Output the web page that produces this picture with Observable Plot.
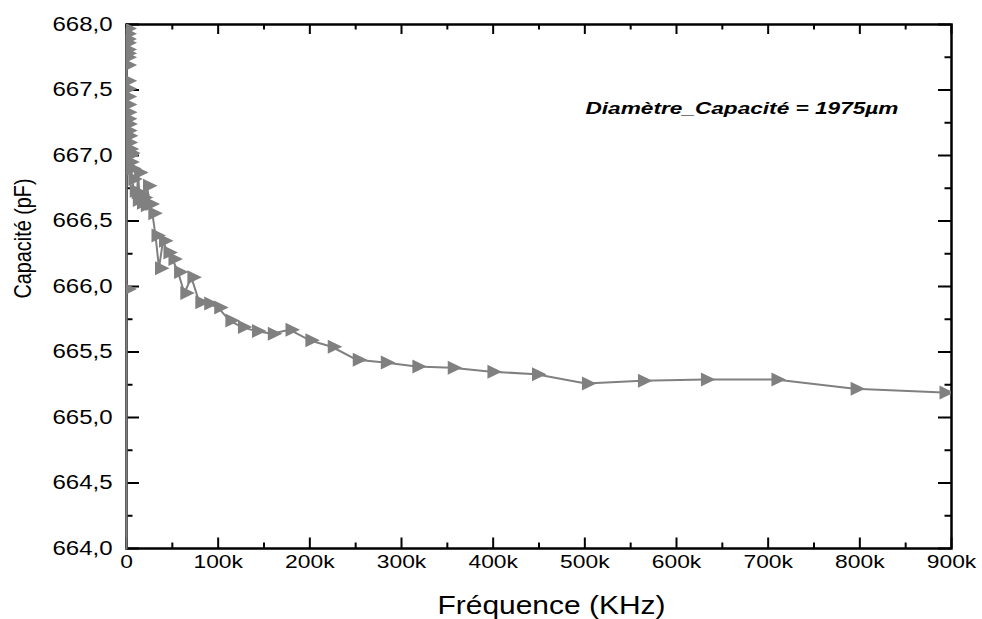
<!DOCTYPE html>
<html><head><meta charset="utf-8">
<script src="https://cdn.jsdelivr.net/npm/d3@7"></script>
<script src="https://cdn.jsdelivr.net/npm/@observablehq/plot@0.6"></script>
<style>
body{margin:0;background:#fff}
svg{font-family:"Liberation Sans",Arial,sans-serif}
</style>
</head><body><div id="chart"></div>
<script>
// Frequency (Hz)
const frequencies = [20, 25, 32, 40, 50, 63, 79, 100, 126, 158, 200, 251, 316, 398, 501, 631, 794,
  1000, 1259, 1585, 1995, 2512, 3162, 3981, 5012, 6310, 7943, 10000, 11220, 12590, 14130, 15850,
  17780, 19950, 22390, 25120, 28180, 31620, 35480, 39810, 44670, 50120, 56230, 63100, 70790, 79430,
  89130, 100000, 112200, 125900, 141300, 158500, 177800, 199500, 223900, 251200, 281800, 316200,
  354800, 398100, 446700, 501200, 562300, 631000, 707900, 794300, 891300];
// Capacité (pF)
const capacitance = [663.5, 665.98, 667.97, 667.89, 667.93, 667.81, 667.86, 667.75, 667.78, 667.69,
  667.57, 667.45, 667.51, 667.39, 667.28, 667.33, 667.19, 667.24, 667.10, 667.15, 667.00, 667.05,
  666.95, 667.02, 666.90, 666.82, 666.73, 666.72, 666.66, 666.87, 666.70, 666.64, 666.68, 666.62,
  666.77, 666.63, 666.56, 666.39, 666.14, 666.35, 666.26, 666.21, 666.11, 665.95, 666.07, 665.88,
  665.87, 665.84, 665.74, 665.69, 665.66, 665.64, 665.67, 665.59, 665.54, 665.44, 665.42, 665.39,
  665.38, 665.35, 665.33, 665.26, 665.28, 665.29, 665.29, 665.22, 665.19];

const xTicks = [0, 100000, 200000, 300000, 400000, 500000, 600000, 700000, 800000, 900000];
const xMinorTicks = [50000, 150000, 250000, 350000, 450000, 550000, 650000, 750000, 850000];
const yTicks = [664, 664.5, 665, 665.5, 666, 666.5, 667, 667.5, 668];
const yMinorTicks = [664.25, 664.75, 665.25, 665.75, 666.25, 666.75, 667.25, 667.75];
const xTitle = "Fréquence (KHz)";
const yTitle = "Capacité (pF)";
const note = "Diamètre_Capacité = 1975µm";

const data = frequencies.map((f, i) => ({f, c: capacitance[i]}));
const W = 982, H = 619, mL = 126, mR = 31, mT = 24, mB = 71;
const pw = W - mL - mR, ph = H - mT - mB;

const tri = {draw(ctx, size) {
  const s = Math.sqrt(size / Math.PI) / 5;
  ctx.moveTo(-4 * s, -7 * s); ctx.lineTo(10.5 * s, 0); ctx.lineTo(-4 * s, 7 * s); ctx.closePath();
}};

const plot = Plot.plot({
  width: W, height: H, marginLeft: mL, marginRight: mR, marginTop: mT, marginBottom: mB,
  x: {domain: [0, 900000], label: null},
  y: {domain: [664, 668], clamp: true, label: null},
  style: {fontFamily: '"Liberation Sans", Arial, sans-serif', color: "black", background: "white"},
  marks: [
    Plot.frame({stroke: "black", strokeWidth: 2.5}),
    Plot.tickX(xTicks, {x: d => d, insetTop: ph - 10.5, stroke: "black", strokeWidth: 2}),
    Plot.tickX(xTicks, {x: d => d, insetBottom: ph - 10, stroke: "black", strokeWidth: 2}),
    Plot.tickX(xMinorTicks, {x: d => d, insetTop: ph - 5.5, stroke: "black", strokeWidth: 2}),
    Plot.tickX(xMinorTicks, {x: d => d, insetBottom: ph - 5.5, stroke: "black", strokeWidth: 2}),
    Plot.tickY(yTicks, {y: d => d, insetRight: pw - 13, stroke: "black", strokeWidth: 2}),
    Plot.tickY(yTicks, {y: d => d, insetLeft: pw - 13, stroke: "black", strokeWidth: 2}),
    Plot.tickY(yMinorTicks, {y: d => d, insetRight: pw - 6.5, stroke: "black", strokeWidth: 2}),
    Plot.tickY(yMinorTicks, {y: d => d, insetLeft: pw - 6.5, stroke: "black", strokeWidth: 2}),
    Plot.axisX(xTicks, {tickSize: 0, tickPadding: 5.5, fontSize: 19, label: null,
      tickFormat: d => d === 0 ? "0" : (d / 1000) + "k"}),
    Plot.axisY(yTicks, {tickSize: 0, tickPadding: 14, fontSize: 20, label: null,
      tickFormat: d => d.toFixed(1).replace(".", ",")}),
    Plot.line(data, {x: "f", y: "c", stroke: "#808080", strokeWidth: 2}),
    Plot.dot(data.filter(d => d.c >= 664 && d.c <= 668), {x: "f", y: "c", symbol: tri, r: 5,
      fill: "#808080", stroke: "none", clip: true}),
    Plot.text([yTitle], {text: d => d, frameAnchor: "left", textAnchor: "middle", lineAnchor: "middle",
      rotate: -90, dx: -103.5, dy: -48, fontSize: 24}),
    Plot.text([xTitle], {text: d => d, frameAnchor: "bottom", textAnchor: "middle", lineAnchor: "middle",
      dx: 12.5, dy: 57, fontSize: 25}),
    Plot.text([note], {text: d => d, frameAnchor: "top-left", textAnchor: "start", lineAnchor: "middle",
      dx: 459, dy: 83.6, fontSize: 17, fontWeight: "bold", fontStyle: "italic"})
  ]
});
document.getElementById("chart").append(plot);

const stretch = (t, factor, target) => {
  const len = t.getComputedTextLength();
  t.setAttribute("textLength", target != null ? target : len * factor);
  t.setAttribute("lengthAdjust", "spacingAndGlyphs");
};
plot.querySelectorAll("text").forEach(t => {
  const s = t.textContent;
  if (s === note) stretch(t, null, 313);
  else if (s === xTitle) stretch(t, null, 228);
  else if (s === yTitle) stretch(t, null, 120);
  else stretch(t, 1.2);
});
</script>
</body></html>
